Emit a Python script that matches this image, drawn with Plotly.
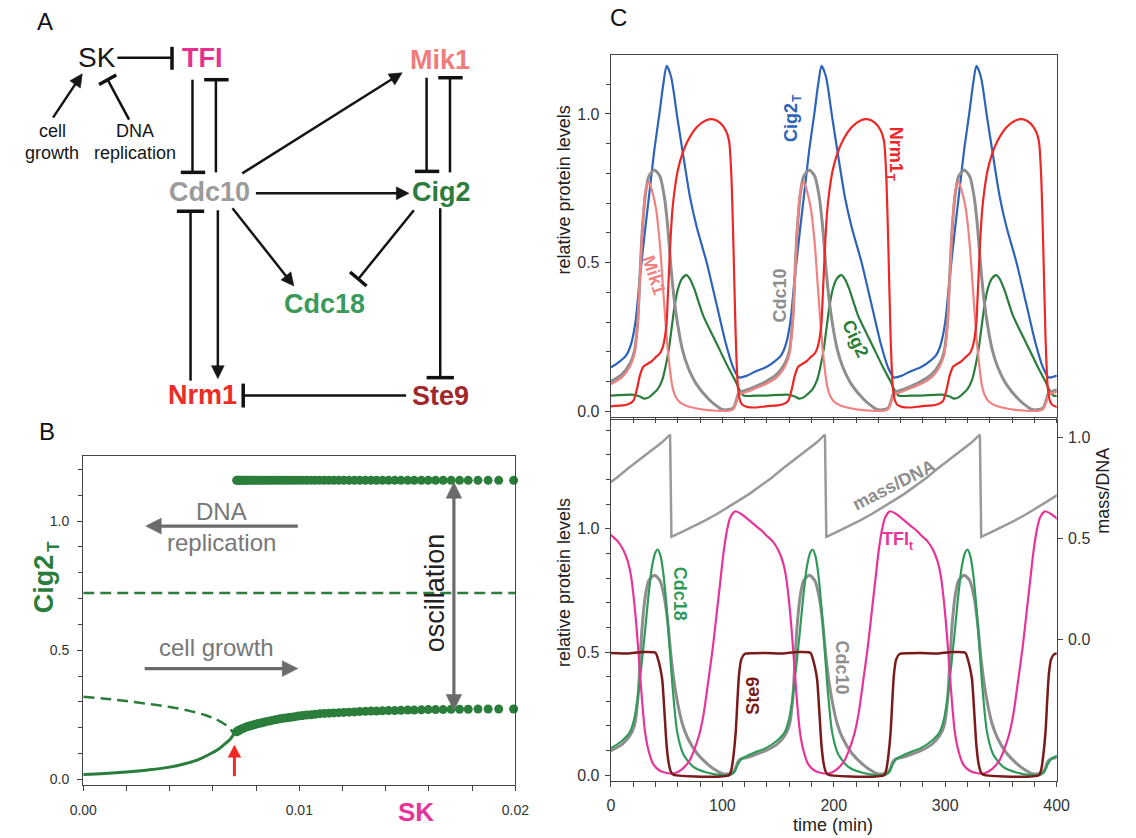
import math
import plotly.graph_objects as go

W, H = 1136, 838
def X(px): return px / W
def Y(py): return 1 - py / H

FONT = "Liberation Sans, Arial, sans-serif"

# ---------------- Panel B data (bifurcation diagram) ----------------
sk_stable = [0.0, 0.001, 0.002, 0.003, 0.004, 0.0047, 0.0053, 0.0058, 0.0062, 0.0065, 0.0068, 0.00697]
cig2_stable = [0.018, 0.022, 0.028, 0.036, 0.047, 0.06, 0.075, 0.095, 0.113, 0.133, 0.155, 0.175]
sk_unstable = [0.0, 0.001, 0.002, 0.003, 0.004, 0.005, 0.0057, 0.0062, 0.0066, 0.00685, 0.00697]
cig2_unstable = [0.32, 0.312, 0.303, 0.292, 0.28, 0.263, 0.247, 0.23, 0.21, 0.19, 0.175]
sk_hline = [0.0, 0.02]
cig2_hline = [0.722, 0.722]
sk_osc = [0.0071, 0.00715, 0.00721, 0.00728, 0.00736, 0.00745, 0.00754, 0.00764, 0.00775, 0.00786,
          0.00798, 0.0081, 0.00823, 0.00836, 0.0085, 0.00864, 0.00879, 0.00894, 0.0091, 0.00926,
          0.00943, 0.0096, 0.00978, 0.00996, 0.01015, 0.01034, 0.01054, 0.01074, 0.01095, 0.01116,
          0.01138, 0.0116, 0.01183, 0.01206, 0.0123, 0.01255, 0.0128, 0.01306, 0.01332, 0.01358,
          0.01385, 0.01413, 0.01442, 0.01471, 0.01502, 0.01532, 0.01565, 0.01597, 0.01631, 0.01666,
          0.01703, 0.01742, 0.01782, 0.01827, 0.01874, 0.01923, 0.01992]
osc_min = [0.184, 0.187, 0.19, 0.193, 0.196, 0.199, 0.202, 0.205, 0.207, 0.21,
           0.213, 0.216, 0.218, 0.221, 0.224, 0.226, 0.229, 0.231, 0.234, 0.236,
           0.238, 0.24, 0.242, 0.245, 0.247, 0.249, 0.25, 0.252, 0.254, 0.255,
           0.256, 0.257, 0.258, 0.259, 0.26, 0.261, 0.262, 0.263, 0.264, 0.264,
           0.265, 0.266, 0.266, 0.267, 0.268, 0.268, 0.269, 0.27, 0.27, 0.27,
           0.271, 0.271, 0.271, 0.272, 0.272, 0.272, 0.272]
osc_max = [1.158 for _ in sk_osc]

# ---------------- Panel C data: one observed cycle per curve ----------------
period = 139.0        # min, cycle length read from the peaks
peak_time = 50.0      # first Cig2T peak (phase reference)
mass_drop = 54.3      # first mass/DNA division

cig2T_tau = [-50, -42, -36, -32, -28, -24, -19, -15, -11, -6.5, -3, 0, 4, 9.5, 15.5, 21, 27, 36, 44.5, 53, 60, 65, 72, 80]
cig2T_val = [0.148, 0.168, 0.19, 0.225, 0.3, 0.45, 0.62, 0.75, 0.88, 1.0, 1.1, 1.162, 1.125, 0.99, 0.846, 0.72, 0.62, 0.5, 0.365, 0.23, 0.145, 0.114, 0.12, 0.135]

nrm1_tau = [-50, -36, -30, -27, -24, -21, -17, -13, -9, -6, -4, -2, 0, 1, 2, 3.5, 5, 7, 10, 14, 19, 27, 35, 42, 48, 53, 56, 58, 60, 62, 64, 66, 68, 72, 80]
nrm1_val = [0.017, 0.022, 0.035, 0.07, 0.12, 0.15, 0.16, 0.17, 0.185, 0.195, 0.21, 0.24, 0.3, 0.38, 0.46, 0.58, 0.67, 0.74, 0.81, 0.865, 0.91, 0.955, 0.978, 0.982, 0.97, 0.945, 0.91, 0.8, 0.55, 0.25, 0.08, 0.035, 0.022, 0.015, 0.013]

cdc10_tau = [-50, -40, -33, -29, -26, -24, -22, -19, -16, -11, -6, -2, 1, 4, 7, 10, 14, 19, 27, 38, 46, 50, 56, 60, 62, 64, 66, 72, 80]
cdc10_val = [0.1, 0.125, 0.16, 0.2, 0.3, 0.45, 0.6, 0.73, 0.79, 0.812, 0.79, 0.72, 0.62, 0.48, 0.37, 0.29, 0.21, 0.15, 0.09, 0.04, 0.015, 0.006, 0.006, 0.012, 0.03, 0.055, 0.065, 0.072, 0.084]

mik1_tau = [-50, -40, -33, -29, -26, -24, -22, -19, -16, -13, -9.5, -6, -3.5, -1, 1, 3, 5, 8, 12, 18, 24, 35, 45, 56, 60, 62, 64, 66, 72, 80]
mik1_val = [0.092, 0.115, 0.15, 0.19, 0.29, 0.44, 0.6, 0.74, 0.773, 0.74, 0.68, 0.56, 0.43, 0.3, 0.21, 0.14, 0.086, 0.05, 0.03, 0.018, 0.012, 0.005, 0.002, 0.002, 0.008, 0.025, 0.048, 0.058, 0.066, 0.078]

cig2_tau = [-50, -31, -24, -20, -16, -12.5, -8, -4, -1, 2, 4.5, 7, 10, 13.5, 17.7, 21, 25, 33, 44.5, 56, 62, 65, 69, 80]
cig2_val = [0.053, 0.056, 0.05, 0.043, 0.047, 0.058, 0.075, 0.105, 0.15, 0.21, 0.28, 0.35, 0.41, 0.445, 0.458, 0.445, 0.41, 0.32, 0.231, 0.142, 0.1, 0.075, 0.053, 0.053]

tfi_tau = [-50, -44, -39, -35, -32, -29.5, -27, -24.5, -22, -19.5, -16.5, -12, -6, 0, 7, 14, 20, 24, 29, 33, 37, 41.5, 45, 48, 51, 54, 57, 61.5, 67, 74, 80, 86]
tfi_val = [0.975, 0.95, 0.915, 0.87, 0.81, 0.72, 0.6, 0.45, 0.3, 0.18, 0.105, 0.045, 0.018, 0.009, 0.008, 0.025, 0.055, 0.094, 0.16, 0.243, 0.37, 0.52, 0.66, 0.78, 0.9, 0.99, 1.045, 1.071, 1.06, 1.035, 1.012, 0.99]

cdc18_tau = [-50, -40, -33, -29, -25.5, -22.5, -19.5, -16.5, -13, -10, -8, -5.5, -3, 0, 3, 5.5, 9.5, 15, 24, 36, 50, 58, 61, 64, 67, 72, 80]
cdc18_val = [0.11, 0.14, 0.175, 0.23, 0.33, 0.45, 0.58, 0.72, 0.85, 0.905, 0.916, 0.89, 0.82, 0.68, 0.5, 0.35, 0.175, 0.085, 0.034, 0.011, 0.0, 0.003, 0.015, 0.045, 0.065, 0.078, 0.094]

ste9_tau = [-50, -35, -22, -10, -8, -6, -4, -2, 0, 2, 4, 6, 56, 58, 60, 62, 63.5, 65, 67, 70, 78]
ste9_val = [0.496, 0.494, 0.5, 0.497, 0.475, 0.44, 0.39, 0.26, 0.12, 0.045, 0.012, 0.002, 0.0, 0.02, 0.08, 0.175, 0.3, 0.41, 0.47, 0.492, 0.495]

mass_tau = [0, 10, 20, 30, 40, 50, 60, 70, 80, 90, 100, 110, 120, 130, 137.8]
mass_val = [0.508, 0.534, 0.56, 0.588, 0.618, 0.65, 0.685, 0.72, 0.76, 0.8, 0.845, 0.888, 0.93, 0.972, 1.012]


def tile(tau, vals, offset):
    """Place the observed cycle at each successive period."""
    t_out, v_out = [], []
    for k in range(-1, 4):
        for a, v in zip(tau, vals):
            t = a + offset + k * period
            if -40 <= t <= 440:
                t_out.append(t)
                v_out.append(v)
    return t_out, v_out


fig = go.Figure()

# ---------------- Panel B traces ----------------
G = "#2b7d3b"
fig.add_trace(go.Scatter(x=sk_hline, y=cig2_hline, mode="lines", xaxis="x", yaxis="y",
                         line=dict(color=G, width=2.5, dash="11px,6px")))
fig.add_trace(go.Scatter(x=sk_unstable, y=cig2_unstable, mode="lines", xaxis="x", yaxis="y",
                         line=dict(color=G, width=2.5, dash="11px,6px", shape="spline")))
fig.add_trace(go.Scatter(x=sk_stable, y=cig2_stable, mode="lines", xaxis="x", yaxis="y",
                         line=dict(color=G, width=3, shape="spline")))
fig.add_trace(go.Scatter(x=sk_osc, y=osc_max, mode="markers", xaxis="x", yaxis="y", cliponaxis=False,
                         marker=dict(color=G, size=9, line=dict(width=0))))
fig.add_trace(go.Scatter(x=sk_osc, y=osc_min, mode="markers", xaxis="x", yaxis="y", cliponaxis=False,
                         marker=dict(color=G, size=9, line=dict(width=0))))

# ---------------- Panel C top traces ----------------
def add_curve(tau, vals, offset, color, width, xa, ya, shape="spline"):
    t, v = tile(tau, vals, offset)
    fig.add_trace(go.Scatter(x=t, y=v, mode="lines", xaxis=xa, yaxis=ya,
                             line=dict(color=color, width=width, shape=shape, smoothing=0.7)))

add_curve(cig2_tau, cig2_val, peak_time, "#2a7d3a", 2.2, "x2", "y2")
add_curve(cig2T_tau, cig2T_val, peak_time, "#2d63b8", 2.2, "x2", "y2")
add_curve(cdc10_tau, cdc10_val, peak_time, "#8e8e8e", 3, "x2", "y2")
add_curve(mik1_tau, mik1_val, peak_time, "#f08282", 2.2, "x2", "y2")
add_curve(nrm1_tau, nrm1_val, peak_time, "#ee2626", 2.2, "x2", "y2")

# ---------------- Panel C bottom traces ----------------
add_curve(mass_tau, mass_val, mass_drop, "#9a9a9a", 2.5, "x3", "y4", shape="linear")
add_curve(cdc10_tau, cdc10_val, peak_time, "#8e8e8e", 3, "x3", "y3")
add_curve(cdc18_tau, cdc18_val, peak_time, "#2f9a5a", 2.2, "x3", "y3")
add_curve(tfi_tau, tfi_val, peak_time, "#e8349a", 2.2, "x3", "y3")
add_curve(ste9_tau, ste9_val, peak_time, "#7a1a1a", 2.5, "x3", "y3")

# ---------------- Axes ----------------
AX = "#444444"
TICKC = "#333333"
def axis_common(**kw):
    d = dict(showline=True, linecolor=AX, linewidth=1.4, showgrid=False, zeroline=False,
             ticks="outside", tickcolor=AX, ticklen=5, tickwidth=1.2, mirror=True)
    d.update(kw)
    return d

layout = dict(
    width=W, height=838, margin=dict(l=0, r=0, t=0, b=0),
    paper_bgcolor="white", plot_bgcolor="white", showlegend=False,
    font=dict(family=FONT, color=TICKC),
    xaxis=axis_common(domain=[X(71), X(514)], anchor="y", range=[0, 0.02], dtick=0.01, tick0=0,
                      tickformat=".2f", tickfont=dict(size=14, color=TICKC), ticklabelstandoff=7,
                      minor=dict(dtick=0.002, ticks="outside", ticklen=5, tickcolor=AX)),
    yaxis=axis_common(domain=[Y(788), Y(458)], anchor="x", range=[-0.023, 1.251], dtick=0.5, tick0=0,
                      tickformat=".1f", tickfont=dict(size=14, color=TICKC), ticklabelstandoff=5,
                      minor=dict(dtick=0.1, ticks="outside", ticklen=4, tickcolor=AX)),
    xaxis2=axis_common(domain=[X(612), X(1069)], anchor="y2", range=[0, 400], dtick=20, tick0=0,
                       showticklabels=False),
    yaxis2=axis_common(domain=[Y(418.5), Y(55)], anchor="x2", range=[-0.019, 1.199], dtick=0.5, tick0=0,
                       tickformat=".1f", tickfont=dict(size=16, color=TICKC), ticklabelstandoff=2,
                       minor=dict(dtick=0.1, ticks="outside", ticklen=4, tickcolor=AX)),
    xaxis3=axis_common(domain=[X(612), X(1069)], anchor="y3", range=[0, 400], dtick=100, tick0=0,
                       tickfont=dict(size=16, color=TICKC), ticklabelstandoff=4,
                       minor=dict(dtick=20, ticks="outside", ticklen=5, tickcolor=AX)),
    yaxis3=axis_common(domain=[Y(784), Y(421.5)], anchor="x3", range=[-0.0243, 1.4416], dtick=0.5, tick0=0,
                       tickformat=".1f", tickfont=dict(size=16, color=TICKC), ticklabelstandoff=2,
                       minor=dict(dtick=0.1, ticks="outside", ticklen=4, tickcolor=AX)),
    yaxis4=dict(overlaying="y3", side="right", anchor="x3", range=[-0.6985, 1.0846],
                tickvals=[0, 0.5, 1.0], tickformat=".1f", tickfont=dict(size=16, color=TICKC),
                showline=True, linecolor=AX, linewidth=1.4, ticks="outside", ticklen=5, tickcolor=AX,
                showgrid=False, zeroline=False, ticklabelstandoff=2),
)
fig.update_layout(**layout)

# ---------------- Annotations & shapes ----------------
anns = []
shapes = []

def text(px, py, s, size, color="#111111", angle=0, bold=False, xanchor="center"):
    if bold:
        s = "<b>" + s + "</b>"
    anns.append(dict(x=X(px), y=Y(py), xref="paper", yref="paper", text=s, showarrow=False,
                     textangle=angle, xanchor=xanchor, yanchor="middle",
                     font=dict(family=FONT, size=size, color=color)))

def line(p0, p1, color="#111111", width=2.5):
    shapes.append(dict(type="line", xref="paper", yref="paper", x0=X(p0[0]), y0=Y(p0[1]),
                       x1=X(p1[0]), y1=Y(p1[1]), line=dict(color=color, width=width)))

def head_shape(tip, ux, uy, hl, hw, color):
    bx, by = tip[0] - ux * hl, tip[1] - uy * hl
    nx, ny = -uy, ux
    pts = [tip, (bx + nx * hw, by + ny * hw), (bx - nx * hw, by - ny * hw)]
    path = "M " + " L ".join(f"{X(p[0]):.5f},{Y(p[1]):.5f}" for p in pts) + " Z"
    shapes.append(dict(type="path", xref="paper", yref="paper", path=path,
                       fillcolor=color, line=dict(color=color, width=0.5)))

def arrow(tail, head, color="#111111", width=2.5, hl=13, hw=6.5, both=False):
    dx, dy = head[0] - tail[0], head[1] - tail[1]
    L = math.hypot(dx, dy)
    ux, uy = dx / L, dy / L
    end = (head[0] - ux * (hl - 1), head[1] - uy * (hl - 1))
    start = tail
    if both:
        start = (tail[0] + ux * (hl - 1), tail[1] + uy * (hl - 1))
        head_shape(tail, -ux, -uy, hl, hw, color)
    line(start, end, color, width)
    head_shape(head, ux, uy, hl, hw, color)

# Panel labels
text(32, 22, "A", 24)
text(34, 433, "B", 24)
text(620, 18, "C", 24)

# ---- Panel A: network ----
K = "#151515"
text(85, 58, "SK", 28, K)
text(193, 58, "TFI", 27, "#e6318e", bold=True)
text(437, 60, "Mik1", 27, "#f07c7c", bold=True)
text(200, 193, "Cdc10", 27, "#9b9b9b", bold=True)
text(438, 193, "Cig2", 27, "#2c7d3b", bold=True)
text(318, 305, "Cdc18", 27, "#3a9a5c", bold=True)
text(193, 396, "Nrm1", 27, "#ee2b24", bold=True)
text(437, 397, "Ste9", 27, "#a3262b", bold=True)
text(39, 131, "cell", 18, K)
text(39, 154, "growth", 18, K)
text(124, 131, "DNA", 18, K)
text(124, 154, "replication", 18, K)

# SK -| TFI
line((106, 58), (162, 58)); line((162, 47), (162, 70), width=3.5)
# cell growth -> SK
arrow((40, 118), (70, 74), K)
# DNA replication -| SK
line((118, 120), (96, 80)); line((87.2, 84.8), (104.8, 75.2), width=3.5)
# TFI -| Cdc10
line((183, 80), (183, 173)); line((171, 173), (196, 173), width=3.5)
# Cdc10 -| TFI
line((207, 173), (207, 80)); line((195, 80), (220, 80), width=3.5)
# Cdc10 -> Mik1
arrow((234, 174), (398, 73), K)
# Cdc10 -> Cig2
arrow((248, 194), (405, 194), K)
# Mik1 -| Cig2
line((423, 78), (423, 172)); line((411, 172), (436, 172), width=3.5)
# Cig2 -| Mik1
line((447, 173), (447, 78)); line((435, 78), (460, 78), width=3.5)
# Cdc10 -> Cdc18
arrow((224, 209), (287, 287), K)
# Cig2 -| Cdc18
line((410, 211), (353, 280)); line((344.5, 273), (361.5, 287), width=3.5)
# Nrm1 -| Cdc10
line((181, 382), (181, 212)); line((167, 212), (195, 212), width=3.5)
# Cdc10 -> Nrm1
arrow((209, 211), (209, 380), K)
# Ste9 -| Nrm1
line((402, 397), (235, 397)); line((235, 385), (235, 409), width=3.5)
# Cig2 -| Ste9
line((437, 209), (437, 379)); line((423, 379), (451, 379), width=3.5)

# ---- Panel B annotations ----
GR = "#6b6b6b"
text(31, 586, "Cig2", 27, G, angle=-90, bold=True)
text(40, 549, "T", 17, G, angle=-90, bold=True)
text(412, 815, "SK", 26, "#e8349a", bold=True)
text(213, 513, "DNA", 24, "#777777")
text(213, 544, "replication", 24, "#777777")
arrow((291, 528), (135, 528), GR, width=3.2, hl=16, hw=8)
text(208, 650, "cell growth", 24, "#777777")
arrow((134, 671), (291, 671), GR, width=3.2, hl=16, hw=8)
text(432, 595, "oscillation", 27, "#222222", angle=-90)
arrow((451, 713), (451, 484), GR, width=3.2, hl=16, hw=8, both=True)
arrow((226, 779), (226, 748), "#ee2a24", width=3, hl=12, hw=6.5)

# ---- Panel C annotations ----
text(564, 191, "relative protein levels", 18, "#222222", angle=-90)
text(564, 585, "relative protein levels", 18, "#222222", angle=-90)
text(1117, 492, "mass/DNA", 18, "#222222", angle=-90)
text(840, 828, "time (min)", 18, "#222222")

text(796, 123, "Cig2", 18, "#2d63b8", angle=-90, bold=True)
text(802, 98, "T", 12, "#2d63b8", angle=-90, bold=True)
text(904, 150, "Nrm1", 18, "#ee2626", angle=90, bold=True)
text(898, 178, "T", 12, "#ee2626", angle=90, bold=True)
text(656, 276, "Mik1", 18, "#f08282", angle=72, bold=True)
text(785, 297, "Cdc10", 18, "#8e8e8e", angle=-90, bold=True)
text(863, 340, "Cig2", 18, "#2a7d3a", angle=65, bold=True)
text(902, 487, "mass/DNA", 18, "#8e8e8e", angle=-27, bold=True)
text(904, 541, "TFI", 18, "#e8349a", bold=True)
text(920, 548, "t", 12, "#e8349a", bold=True)
text(683, 596, "Cdc18", 18, "#2f9a5a", angle=90, bold=True)
text(849, 670, "Cdc10", 18, "#8e8e8e", angle=90, bold=True)
text(757, 698, "Ste9", 18, "#7a1a1a", angle=-90, bold=True)

fig.update_layout(annotations=anns, shapes=shapes)
fig.write_html("out.html")
